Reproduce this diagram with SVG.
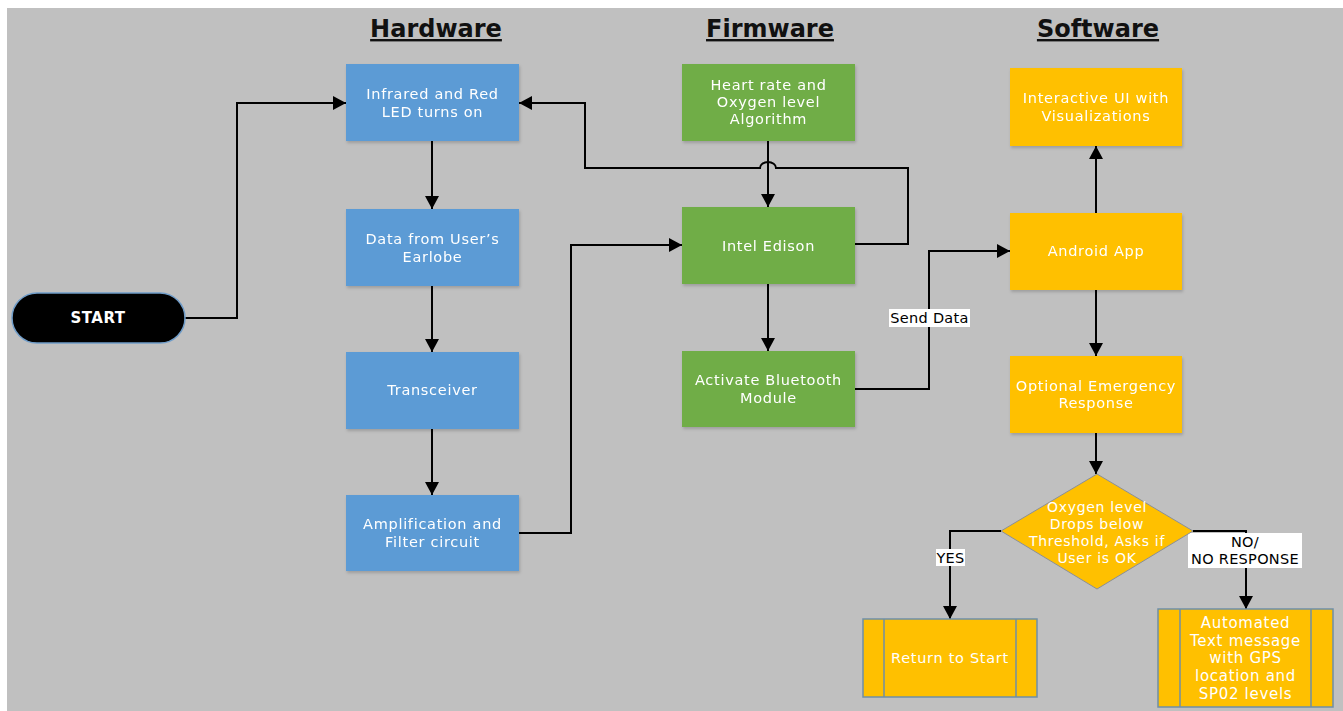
<svg xmlns="http://www.w3.org/2000/svg" width="1343" height="711" viewBox="0 0 1343 711">
<style>
.title{font-family:"DejaVu Sans",sans-serif;font-weight:bold;font-size:24px;fill:#111;text-anchor:middle;text-decoration:underline}
.t{font-family:"DejaVu Sans",sans-serif;font-size:14.5px;fill:#ffffff;text-anchor:middle;letter-spacing:0.7px}
.td{font-family:"DejaVu Sans",sans-serif;font-size:14px;fill:#ffffff;text-anchor:middle;letter-spacing:0.7px}
.lbl{font-family:"DejaVu Sans",sans-serif;font-size:14.5px;fill:#000;text-anchor:middle;letter-spacing:0.3px}
.blue{fill:#5b9bd5}
.green{fill:#70ad47}
.yel{fill:#ffc000}
.pp{fill:#ffc000;stroke:#6f8fa6;stroke-width:1.5}
.ln{fill:none;stroke:#000;stroke-width:2}
.lb{fill:#fff}
</style>
<defs>
<marker id="ah" markerUnits="userSpaceOnUse" markerWidth="14" markerHeight="14" refX="13" refY="7" orient="auto">
<path d="M0,0 L13,7 L0,14 Z" fill="#000"/>
</marker>
<filter id="sh" x="-10%" y="-10%" width="125%" height="130%">
<feDropShadow dx="1" dy="2" stdDeviation="1.5" flood-color="#000" flood-opacity="0.18"/>
</filter>
</defs>
<rect x="0" y="0" width="1343" height="711" fill="#ffffff"/>
<rect x="7" y="8" width="1336" height="703" fill="#c0c0c0"/>

<text class="title" x="436" y="37">Hardware</text>
<text class="title" x="770" y="37">Firmware</text>
<text class="title" x="1098" y="37">Software</text>

<g id="connectors">
<path class="ln" d="M185,318 H237 V103 H346" marker-end="url(#ah)"/>
<path class="ln" d="M432,141 V209" marker-end="url(#ah)"/>
<path class="ln" d="M432,286 V352" marker-end="url(#ah)"/>
<path class="ln" d="M432,429 V495" marker-end="url(#ah)"/>
<path class="ln" d="M519,533 H571 V245 H682" marker-end="url(#ah)"/>
<path class="ln" d="M768,141 V207" marker-end="url(#ah)"/>
<path class="ln" d="M855,244 H908 V168 H776 A8 6 0 0 0 760,168 H585 V103 H519" marker-end="url(#ah)"/>
<path class="ln" d="M768,284 V351" marker-end="url(#ah)"/>
<path class="ln" d="M855,389 H929 V251 H1010" marker-end="url(#ah)"/>
<path class="ln" d="M1096,213 V146" marker-end="url(#ah)"/>
<path class="ln" d="M1096,290 V356" marker-end="url(#ah)"/>
<path class="ln" d="M1096,433 V474" marker-end="url(#ah)"/>
<path class="ln" d="M1001,531 H950 V619" marker-end="url(#ah)"/>
<path class="ln" d="M1193,531 H1246 V609" marker-end="url(#ah)"/>
<g id="label-send">
<rect class="lb" x="889" y="309" width="81" height="18"/>
<text class="lbl" x="929.5" y="323">Send Data</text>
</g>
<g id="label-yes">
<rect class="lb" x="936" y="549" width="29" height="17"/>
<text class="lbl" x="950.5" y="562.5">YES</text>
</g>
<g id="label-no">
<rect class="lb" x="1188" y="533" width="114" height="35"/>
<text class="lbl" x="1245" y="547">NO/</text>
<text class="lbl" x="1245" y="564">NO RESPONSE</text>
</g>
</g>

<g id="start">
<rect x="12" y="293" width="173" height="50" rx="25" ry="25" fill="#000" stroke="#6f9cc8" stroke-width="1.5"/>
<text class="t" x="98" y="323" style="font-size:15px;font-weight:bold;letter-spacing:0.5px">START</text>
</g>

<g id="infrared" filter="url(#sh)">
<rect class="blue" x="346" y="64" width="173" height="77"/>
<text class="t" x="432.5" y="99">Infrared and Red</text>
<text class="t" x="432.5" y="117">LED turns on</text>
</g>
<g id="earlobe" filter="url(#sh)">
<rect class="blue" x="346" y="209" width="173" height="77"/>
<text class="t" x="432.5" y="244">Data from User’s</text>
<text class="t" x="432.5" y="262">Earlobe</text>
</g>
<g id="transceiver" filter="url(#sh)">
<rect class="blue" x="346" y="352" width="173" height="77"/>
<text class="t" x="432.5" y="395">Transceiver</text>
</g>
<g id="amplification" filter="url(#sh)">
<rect class="blue" x="346" y="495" width="173" height="76"/>
<text class="t" x="432.5" y="529">Amplification and</text>
<text class="t" x="432.5" y="547">Filter circuit</text>
</g>

<g id="heartrate" filter="url(#sh)">
<rect class="green" x="682" y="64" width="173" height="77"/>
<text class="t" x="768.5" y="90">Heart rate and</text>
<text class="t" x="768.5" y="107">Oxygen level</text>
<text class="t" x="768.5" y="124">Algorithm</text>
</g>
<g id="edison" filter="url(#sh)">
<rect class="green" x="682" y="207" width="173" height="77"/>
<text class="t" x="768.5" y="251">Intel Edison</text>
</g>
<g id="bluetooth" filter="url(#sh)">
<rect class="green" x="682" y="351" width="173" height="76"/>
<text class="t" x="768.5" y="385">Activate Bluetooth</text>
<text class="t" x="768.5" y="403">Module</text>
</g>

<g id="interactive" filter="url(#sh)">
<rect class="yel" x="1010" y="68" width="172" height="78"/>
<text class="t" x="1096" y="103">Interactive UI with</text>
<text class="t" x="1096" y="121">Visualizations</text>
</g>
<g id="android" filter="url(#sh)">
<rect class="yel" x="1010" y="213" width="172" height="77"/>
<text class="t" x="1096" y="256">Android App</text>
</g>
<g id="emergency" filter="url(#sh)">
<rect class="yel" x="1010" y="356" width="172" height="77"/>
<text class="t" x="1096" y="391">Optional Emergency</text>
<text class="t" x="1096" y="408">Response</text>
</g>

<g id="decision">
<polygon points="1097,474 1193,531 1097,589 1001,531" fill="#ffc000" stroke="#8a8f98" stroke-width="1"/>
<text class="td" x="1097" y="512">Oxygen level</text>
<text class="td" x="1097" y="529">Drops below</text>
<text class="td" x="1097" y="546">Threshold, Asks if</text>
<text class="td" x="1097" y="563">User is OK</text>
</g>

<g id="return">
<rect class="pp" x="863" y="619" width="174" height="78"/>
<line x1="884" y1="619" x2="884" y2="697" stroke="#6f8fa6" stroke-width="1.5"/>
<line x1="1016" y1="619" x2="1016" y2="697" stroke="#6f8fa6" stroke-width="1.5"/>
<text class="t" x="950" y="663">Return to Start</text>
</g>

<g id="automated">
<rect class="pp" x="1158" y="609" width="175" height="98"/>
<line x1="1180" y1="609" x2="1180" y2="707" stroke="#6f8fa6" stroke-width="1.5"/>
<line x1="1311" y1="609" x2="1311" y2="707" stroke="#6f8fa6" stroke-width="1.5"/>
<text class="t" x="1245.5" y="628" style="font-size:15px">Automated</text>
<text class="t" x="1245.5" y="646" style="font-size:15px">Text message</text>
<text class="t" x="1245.5" y="663" style="font-size:15px">with GPS</text>
<text class="t" x="1245.5" y="681" style="font-size:15px">location and</text>
<text class="t" x="1245.5" y="699" style="font-size:15px">SP02 levels</text>
</g>
</svg>
